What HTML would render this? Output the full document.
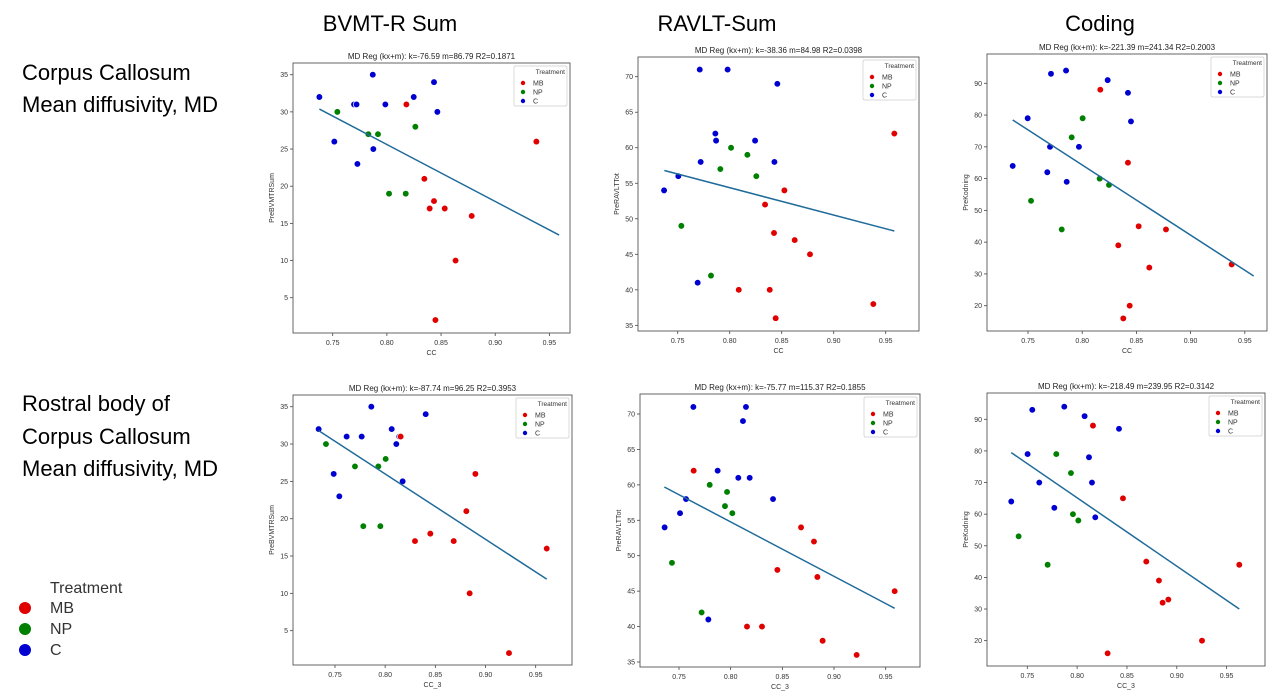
<!DOCTYPE html>
<html><head><meta charset="utf-8"><style>
html,body{margin:0;padding:0;background:#fff;}
svg{display:block;font-family:"Liberation Sans",sans-serif;}
</style></head><body>
<svg id="fig" width="1286" height="693" viewBox="0 0 1286 693">
<text x="390" y="31" font-size="22" text-anchor="middle" fill="#000">BVMT-R Sum</text>
<text x="717" y="31" font-size="22" text-anchor="middle" fill="#000">RAVLT-Sum</text>
<text x="1100" y="31" font-size="22" text-anchor="middle" fill="#000">Coding</text>
<g font-size="22" fill="#000">
<text x="22" y="80">Corpus Callosum</text>
<text x="22" y="112">Mean diffusivity, MD</text>
</g>
<g font-size="22" fill="#000">
<text x="22" y="411">Rostral body of</text>
<text x="22" y="444">Corpus Callosum</text>
<text x="22" y="476">Mean diffusivity, MD</text>
</g>
<g>
<text x="50" y="593" font-size="16" fill="#333">Treatment</text>
<circle cx="25" cy="608" r="6" fill="#e00000"/><text x="50" y="613" font-size="16" fill="#333">MB</text>
<circle cx="25" cy="629" r="6" fill="#008000"/><text x="50" y="634" font-size="16" fill="#333">NP</text>
<circle cx="25" cy="650" r="6" fill="#0000d0"/><text x="50" y="655" font-size="16" fill="#333">C</text>
</g>
</svg>
<script>
// Panel 1: CC vs PreBVMTRSum
const p1_cX=[.7377,.787,.8435,.8248,.8466,.7697,.772,.7986,.7515,.7875,.7728];
const p1_cY=[32,35,34,32,30,31,31,31,26,25,23];
const p1_npX=[.7543,.7829,.7918,.8263,.802,.8174];
const p1_npY=[30,27,27,28,19,19];
const p1_mbX=[.818,.938,.8346,.8435,.8395,.8534,.8783,.8634,.8448];
const p1_mbY=[31,26,21,18,17,17,16,10,2];
const p1_lineX=[.7377,.959];
const p1_lineY=[30.38,13.43];
// Panel 2: CC vs PreRAVLTTot
const p2_cX=[.7712,.798,.8458,.7862,.7869,.8244,.7721,.843,.7506,.7369,.7692];
const p2_cY=[71,71,69,62,61,61,58,58,56,54,41];
const p2_npX=[.8013,.817,.791,.8256,.7535,.782];
const p2_npY=[60,59,57,56,49,42];
const p2_mbX=[.9583,.8526,.834,.8426,.8625,.8772,.8087,.8385,.9381,.8442];
const p2_mbY=[62,54,52,48,47,45,40,40,38,36];
const p2_lineX=[.7372,.9583];
const p2_lineY=[56.8,48.28];
// Panel 3: CC vs PreKodning
const p3_cX=[.7712,.7851,.8235,.8422,.845,.7497,.7703,.797,.7359,.7678,.7857];
const p3_cY=[93,94,91,87,78,79,70,70,64,62,59];
const p3_npX=[.7903,.8004,.8161,.8247,.7528,.7811];
const p3_npY=[73,79,60,58,53,44];
const p3_mbX=[.8167,.8422,.8521,.8773,.8333,.8619,.9379,.8438,.8379];
const p3_mbY=[88,65,45,44,39,32,33,20,16];
const p3_lineX=[.7359,.9582];
const p3_lineY=[78.46,29.35];
// Panel 4: CC_3 vs PreBVMTRSum
const p4_cX=[.7337,.7862,.8404,.8065,.7616,.7766,.8141,.8111,.7487,.8174,.7543];
const p4_cY=[32,35,34,32,31,31,31,30,26,25,23];
const p4_npX=[.741,.7699,.7932,.8005,.7782,.7952];
const p4_npY=[30,27,27,28,19,19];
const p4_mbX=[.8154,.8899,.8809,.8297,.845,.8683,.961,.8842,.9234];
const p4_mbY=[31,26,21,17,18,17,16,10,2];
const p4_lineX=[.7337,.961];
const p4_lineY=[31.8,11.9];
// Panel 5: CC_3 vs PreRAVLTTot
const p5_cX=[.7639,.8148,.8119,.7874,.8074,.8184,.841,.7568,.751,.7361,.7784];
const p5_cY=[71,71,69,62,61,61,58,58,56,54,41];
const p5_npX=[.7797,.7965,.7945,.8016,.7432,.7719];
const p5_npY=[60,59,57,56,49,42];
const p5_mbX=[.7642,.8681,.8806,.8452,.8839,.9587,.8158,.8303,.889,.9219];
const p5_mbY=[62,54,52,48,47,45,40,40,38,36];
const p5_lineX=[.7358,.9587];
const p5_lineY=[59.7,42.58];
// Panel 6: CC_3 vs PreKodning
const p6_cX=[.755,.7871,.8075,.842,.7503,.8119,.762,.8149,.7339,.7771,.8182];
const p6_cY=[93,94,91,87,79,78,70,70,64,62,59];
const p6_npX=[.7791,.7938,.7958,.8012,.7413,.7704];
const p6_npY=[79,73,60,58,53,44];
const p6_mbX=[.8159,.846,.8694,.8821,.8858,.8915,.9627,.9253,.8306];
const p6_mbY=[88,65,45,39,32,33,44,20,16];
const p6_lineX=[.7339,.9627];
const p6_lineY=[79.46,30.0];
const xTicks=[0.75,0.80,0.85,0.90,0.95];
const yTicksBVMT=[5,10,15,20,25,30,35];
const yTicksRAVLT=[35,40,45,50,55,60,65,70];
const yTicksKod=[20,30,40,50,60,70,80,90];
const titles=["MD Reg (kx+m): k=-76.59 m=86.79 R2=0.1871","MD Reg (kx+m): k=-38.36 m=84.98 R2=0.0398","MD Reg (kx+m): k=-221.39 m=241.34 R2=0.2003","MD Reg (kx+m): k=-87.74 m=96.25 R2=0.3953","MD Reg (kx+m): k=-75.77 m=115.37 R2=0.1855","MD Reg (kx+m): k=-218.49 m=239.95 R2=0.3142"];

const NS="http://www.w3.org/2000/svg";
const svg=document.getElementById('fig');
function mk(tag,attrs,parent){const e=document.createElementNS(NS,tag);for(const k in attrs)e.setAttribute(k,attrs[k]);parent.appendChild(e);return e;}

const panels=[
 {box:[293,63,570,333],x0:332.7,xs:54.17,yv0:35,y0:74.7,ys:37.17/5,yt:yTicksBVMT,yl:"PreBVMTRSum",xl:"CC",c:[p1_cX,p1_cY],np:[p1_npX,p1_npY],mb:[p1_mbX,p1_mbY],ln:[p1_lineX,p1_lineY]},
 {box:[638,57,919,331],x0:677.7,xs:52,yv0:70,y0:76.7,ys:35.52/5,yt:yTicksRAVLT,yl:"PreRAVLTTot",xl:"CC",c:[p2_cX,p2_cY],np:[p2_npX,p2_npY],mb:[p2_mbX,p2_mbY],ln:[p2_lineX,p2_lineY]},
 {box:[987,54,1267,331],x0:1028,xs:54.2,yv0:90,y0:83.3,ys:31.77/10,yt:yTicksKod,yl:"PreKodning",xl:"CC",c:[p3_cX,p3_cY],np:[p3_npX,p3_npY],mb:[p3_mbX,p3_mbY],ln:[p3_lineX,p3_lineY]},
 {box:[293,395,572,665],x0:335,xs:50.17,yv0:35,y0:406.7,ys:37.33/5,yt:yTicksBVMT,yl:"PreBVMTRSum",xl:"CC_3",c:[p4_cX,p4_cY],np:[p4_npX,p4_npY],mb:[p4_mbX,p4_mbY],ln:[p4_lineX,p4_lineY]},
 {box:[640,394,920,667],x0:679,xs:51.67,yv0:70,y0:414,ys:35.43/5,yt:yTicksRAVLT,yl:"PreRAVLTTot",xl:"CC_3",c:[p5_cX,p5_cY],np:[p5_npX,p5_npY],mb:[p5_mbX,p5_mbY],ln:[p5_lineX,p5_lineY]},
 {box:[987,393,1265,666],x0:1027.3,xs:49.83,yv0:90,y0:419.3,ys:31.62/10,yt:yTicksKod,yl:"PreKodning",xl:"CC_3",c:[p6_cX,p6_cY],np:[p6_npX,p6_npY],mb:[p6_mbX,p6_mbY],ln:[p6_lineX,p6_lineY]}
];

panels.forEach((p,i)=>{
 const g=mk('g',{},svg);
 
 
 const sx=v=>p.x0+(v-0.75)/0.05*p.xs;
 const sy=v=>p.y0+(p.yv0-v)*p.ys;
 const [L,T,R,B]=p.box;
 const t=mk('text',{x:(L+R)/2,y:T-4,'font-size':8,'text-anchor':'middle',fill:'#222'},g);
 t.textContent=titles[i];
 
 
 xTicks.forEach(v=>{
  const x=sx(v);
  mk('line',{x1:x,y1:B,x2:x,y2:B+3,stroke:'#444','stroke-width':0.8},g);
  const tl=mk('text',{x:x,y:B+12,'font-size':7,'text-anchor':'middle',fill:'#333'},g);
  tl.textContent=v.toFixed(2);
  
  
 });
 p.yt.forEach(v=>{
  const y=sy(v);
  mk('line',{x1:L-3,y1:y,x2:L,y2:y,stroke:'#444','stroke-width':0.8},g);
  const tl=mk('text',{x:L-5,y:y+2.5,'font-size':7,'text-anchor':'end',fill:'#333'},g);
  tl.textContent=String(v);
  
  
 });
 const xl=mk('text',{x:(L+R)/2,y:B+22,'font-size':7,'text-anchor':'middle',fill:'#333'},g);
 xl.textContent=p.xl;
 
 
 const yl=mk('text',{x:0,y:0,'font-size':7,'text-anchor':'middle',fill:'#333',transform:`translate(${L-19},${(T+B)/2}) rotate(-90)`},g);
 yl.textContent=p.yl;
 
 
 const groups=[[p.c,'#0000d0','point-c'],[p.np,'#008000','point-np'],[p.mb,'#e00000','point-mb']];
 groups.forEach(([d,col,nm])=>{
  d[0].forEach((xv,k)=>{
   const c=mk('circle',{cx:sx(xv),cy:sy(d[1][k]),r:3.3,fill:col,stroke:'#fff','stroke-width':0.7},g);
   
   
  });
 });
 const ln=mk('line',{x1:sx(p.ln[0][0]),y1:sy(p.ln[1][0]),x2:sx(p.ln[0][1]),y2:sy(p.ln[1][1]),stroke:'#1f6b9a','stroke-width':1.5},g);
 
 
 mk('rect',{x:L,y:T,width:R-L,height:B-T,fill:'none',stroke:'#555','stroke-width':0.9},g);
 const lg=mk('g',{},g);
 
 
 const lx=R-56, ly=T+3;
 mk('rect',{x:lx,y:ly,width:53,height:40,fill:'#fff',stroke:'#ccc','stroke-width':0.7,rx:1.5},lg);
 const lt=mk('text',{x:lx+51,y:ly+8,'font-size':6.5,'text-anchor':'end',fill:'#333'},lg);
 lt.textContent='Treatment';
 [['MB','#e00000'],['NP','#008000'],['C','#0000d0']].forEach(([n,col],k)=>{
  mk('circle',{cx:lx+9,cy:ly+17+k*9,r:2.2,fill:col},lg);
  const e=mk('text',{x:lx+19,y:ly+19.5+k*9,'font-size':7,fill:'#333'},lg);
  e.textContent=n;
 });
});
</script>
</body></html>
